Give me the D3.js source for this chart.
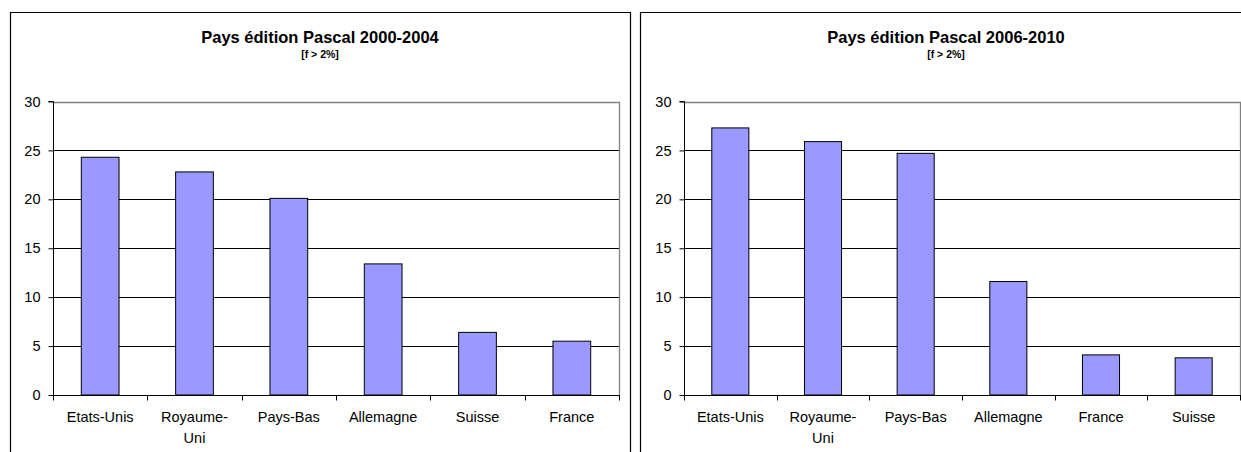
<!DOCTYPE html>
<html>
<head>
<meta charset="utf-8">
<script src="https://cdn.jsdelivr.net/npm/d3@7"></script>
<style>
  html, body { margin: 0; padding: 0; background: #ffffff; }
  svg { display: block; font-family: "Liberation Sans", Arial, sans-serif; }
</style>
</head>
<body>
<svg id="chart" width="1241" height="452"></svg>
<script>
// ---- data ----
const titles = ["Pays édition Pascal 2000-2004", "Pays édition Pascal 2006-2010"];
const subtitle = "[f > 2%]";
const categories2000 = ["Etats-Unis", "Royaume-Uni", "Pays-Bas", "Allemagne", "Suisse", "France"];
const values2000 = [24.3, 22.8, 20.1, 13.4, 6.4, 5.5];
const categories2006 = ["Etats-Unis", "Royaume-Uni", "Pays-Bas", "Allemagne", "France", "Suisse"];
const values2006 = [27.3, 25.9, 24.7, 11.6, 4.1, 3.8];
const yTicks = [0, 5, 10, 15, 20, 25, 30];
const yMax = 30;

// ---- layout ----
const svg = d3.select("#chart");
svg.append("rect").attr("width", 1241).attr("height", 452).attr("fill", "#fff");

const panels = [
  { title: titles[0], cats: categories2000, vals: values2000, x0: 10, x1: 630, cx: 320, plotL: 53, plotR: 619 },
  { title: titles[1], cats: categories2006, vals: values2006, x0: 640, x1: 1262, cx: 946, plotL: 684, plotR: 1240 }
];
const plotTop = 101.5, plotBottom = 395;

panels.forEach(p => {
  const g = svg.append("g");
  // panel border (chart area)
  g.append("path")
    .attr("d", `M${p.x0 + 0.5},460 V${12.5} H${p.x1 + 0.5} V460`)
    .attr("fill", "none").attr("stroke", "#000").attr("stroke-width", 1.2);

  // titles
  g.append("text").attr("x", p.cx).attr("y", 42.5).attr("text-anchor", "middle")
    .attr("font-weight", "bold").attr("font-size", "16.5px").attr("fill", "#000").text(p.title);
  g.append("text").attr("x", p.cx).attr("y", 57.5).attr("text-anchor", "middle")
    .attr("font-weight", "bold").attr("font-size", "10.5px").attr("fill", "#000").text(subtitle);

  const x = d3.scaleBand().domain(p.cats).range([p.plotL, p.plotR]).paddingInner(0.6).paddingOuter(0.3);
  const y = d3.scaleLinear().domain([0, yMax]).range([plotBottom, plotTop]);

  // gridlines
  g.append("g").selectAll("line").data(yTicks.filter(t => t > 0 && t < yMax)).join("line")
    .attr("x1", p.plotL).attr("x2", p.plotR)
    .attr("y1", d => Math.round(y(d)) + 0.5).attr("y2", d => Math.round(y(d)) + 0.5)
    .attr("stroke", "#000").attr("stroke-width", 1);

  // plot area border (top + right), gray
  g.append("path")
    .attr("d", `M${p.plotL},${Math.round(y(yMax)) + 0.5} H${p.plotR + 0.5} V${plotBottom}`)
    .attr("fill", "none").attr("stroke", "#808080").attr("stroke-width", 1.3);

  // bars
  g.append("g").selectAll("rect").data(p.cats.map((c, i) => ({ c, v: p.vals[i] }))).join("rect")
    .attr("x", d => x(d.c))
    .attr("width", x.bandwidth())
    .attr("y", d => y(d.v))
    .attr("height", d => y(0) - y(d.v))
    .attr("fill", "#9999ff").attr("stroke", "#000").attr("stroke-width", 1);

  // y axis
  const yAxis = d3.axisLeft(y).tickValues(yTicks).tickSize(5).tickPadding(8).tickFormat(d3.format("d"));
  const ya = g.append("g").attr("transform", `translate(${p.plotL + 0.5},0)`).call(yAxis);
  ya.select(".domain").attr("d", `M-5,${plotTop}H0V${plotBottom + 0.5}`).attr("stroke", "#000");
  ya.selectAll(".tick line").attr("stroke", "#000");
  ya.selectAll(".tick text").attr("font-size", "14.5px").attr("fill", "#000")
    .attr("font-family", "Liberation Sans, Arial, sans-serif");

  // x axis
  const xa = g.append("g").attr("transform", `translate(0,${plotBottom + 0.5})`);
  xa.append("line").attr("x1", p.plotL).attr("x2", p.plotR + 1).attr("stroke", "#000");
  const step = x.step();
  const bounds = d3.range(p.cats.length + 1).map(i => p.plotL + i * step);
  xa.selectAll("line.tk").data(bounds).join("line").attr("class", "tk")
    .attr("x1", d => Math.round(d) + 0.5).attr("x2", d => Math.round(d) + 0.5)
    .attr("y1", 0).attr("y2", 5).attr("stroke", "#000");

  const labels = xa.selectAll("text.cat").data(p.cats).join("text").attr("class", "cat")
    .attr("x", d => x(d) + x.bandwidth() / 2).attr("y", 26.5)
    .attr("text-anchor", "middle").attr("font-size", "14.5px").attr("fill", "#000")
    .text(d => d);
  // wrap long labels after hyphen
  labels.each(function (d) {
    const t = d3.select(this);
    if (this.getComputedTextLength() > 75 && d.includes("-")) {
      const idx = d.indexOf("-");
      const parts = [d.slice(0, idx + 1), d.slice(idx + 1)];
      const cx = +t.attr("x");
      t.text(null);
      parts.forEach((s, i) => t.append("tspan").attr("x", cx).attr("dy", i === 0 ? 0 : 20.5).text(s));
    }
  });
});
</script>
</body>
</html>
